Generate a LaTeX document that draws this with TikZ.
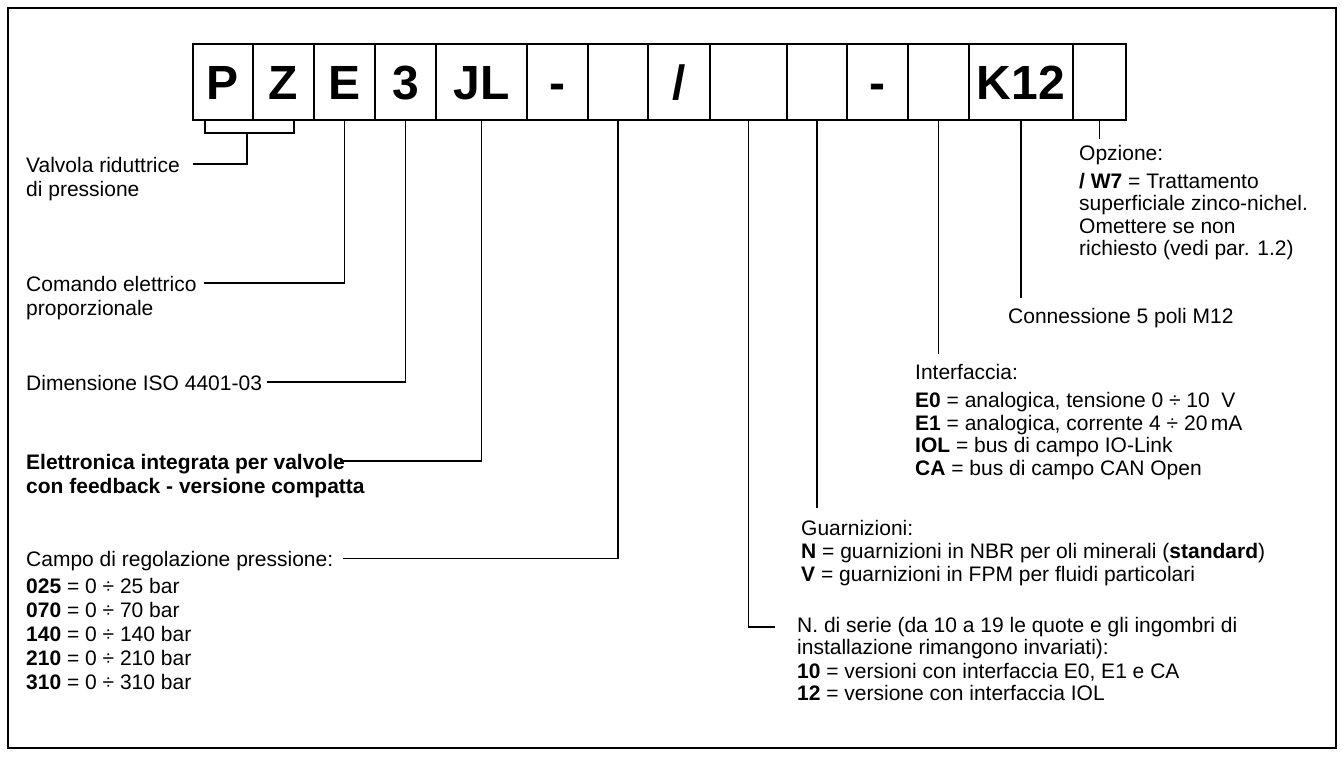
\documentclass[tikz,border=0pt]{standalone}
\usepackage{fontspec}
\setmainfont{Liberation Sans}
\begin{document}
\begin{tikzpicture}[x=1pt,y=-1pt,
  cell/.style={draw,line width=1.1pt,inner sep=0pt,minimum height=76pt,
    font=\fontsize{48}{48}\selectfont\bfseries,text height=34.4pt,text depth=0pt},
  lbl/.style={anchor=base west,inner sep=0pt,font=\fontsize{21}{24}\selectfont},
  lblr/.style={anchor=base west,inner sep=0pt,font=\fontsize{21}{22.5}\selectfont},
  conn/.style={line width=1.1pt}]
\useasboundingbox (0,0) rectangle (1344,756);
\draw[line width=1.5pt] (8,8) rectangle (1336,748);
% code boxes
\node[cell,minimum width=60pt]  (bP)  at (223,82)   {P};
\node[cell,minimum width=61pt]  (bZ)  at (283.5,82) {Z};
\node[cell,minimum width=61pt]  (bE)  at (344.5,82) {E};
\node[cell,minimum width=61pt]  (b3)  at (405.5,82) {3};
\node[cell,minimum width=91pt]  (bJL) at (481.5,82) {JL};
\node[cell,minimum width=61pt]  (bd1) at (557.5,82) {-};
\node[cell,minimum width=60pt]  (bc)  at (618,82)   {};
\node[cell,minimum width=62pt]  (bsl) at (679,82)   {/};
\node[cell,minimum width=77pt]  (bs)  at (748.5,82) {};
\node[cell,minimum width=60pt]  (bg)  at (817,82)   {};
\node[cell,minimum width=61pt]  (bd2) at (877.5,82) {-};
\node[cell,minimum width=61pt]  (bi)  at (938.5,82) {};
\node[cell,minimum width=104pt] (bK)  at (1021,82)  {K12};
\node[cell,minimum width=53pt]  (bo)  at (1099.5,82) {};
% left labels
\node[lbl] (tVal) at (26,172) {\begin{tabular}[t]{@{}l@{}}Valvola riduttrice\\di pressione\end{tabular}};
\node[lbl] (tCom) at (26,291) {\begin{tabular}[t]{@{}l@{}}Comando elettrico\\proporzionale\end{tabular}};
\node[lbl] (tDim) at (26,390) {Dimensione ISO 4401-03};
\node[lbl] (tEl) at (26,469) {\begin{tabular}[t]{@{}l@{}}\textbf{Elettronica integrata per valvole}\\\textbf{con feedback - versione compatta}\end{tabular}};
\node[lbl] (tCam) at (26,566.5) {\begin{tabular}[t]{@{}l@{}}Campo di regolazione pressione:\\[3pt]
\textbf{025} = 0 ÷ 25 bar\\\textbf{070} = 0 ÷ 70 bar\\\textbf{140} = 0 ÷ 140 bar\\\textbf{210} = 0 ÷ 210 bar\\\textbf{310} = 0 ÷ 310 bar\end{tabular}};
% right labels
\node[lblr] (tOpz) at (1079,160.5) {\begin{tabular}[t]{@{}l@{}}Opzione:\\[5pt]\textbf{/ W7} = Trattamento\\superficiale zinco-nichel.\\Omettere se non\\richiesto (vedi par. 1.2)\end{tabular}};
\node[lblr] (tCon) at (1008,323) {Connessione 5 poli M12};
\node[lblr] (tInt) at (915,379) {\begin{tabular}[t]{@{}l@{}}Interfaccia:\\[6pt]\textbf{E0} = analogica, tensione 0 ÷ 10\ \ V\\\textbf{E1} = analogica, corrente 4 ÷ 20\,mA\\\textbf{IOL} = bus di campo IO-Link\\\textbf{CA} = bus di campo CAN Open\end{tabular}};
\node[lblr] (tGua) at (801,535) {\begin{tabular}[t]{@{}l@{}}Guarnizioni:\\[1pt]\textbf{N} = guarnizioni in NBR per oli minerali (\textbf{standard})\\\textbf{V} = guarnizioni in FPM per fluidi particolari\end{tabular}};
\node[lblr] (tSer) at (797,632) {\begin{tabular}[t]{@{}l@{}}N. di serie (da 10 a 19 le quote e gli ingombri di\\installazione rimangono invariati):\\[1pt]\textbf{10} = versioni con interfaccia E0, E1 e CA\\\textbf{12} = versione con interfaccia IOL\end{tabular}};
% connector ends
\coordinate (kPZ) at (247,133);
\coordinate (eVal) at (193,164);
\coordinate (eCom) at (204,283);
\coordinate (eDim) at (267,382);
\coordinate (eEl) at (340,461);
\coordinate (eCam) at (343,558.5);
\coordinate (eOpz) at (1099.5,139);
\coordinate (eCon) at (1021,298);
\coordinate (eInt) at (938.5,354);
\coordinate (eGua) at (817,508);
\coordinate (eSer) at (775,627);
% connectors
\draw[conn] ([xshift=-18pt]bP.south) -- ([xshift=-18pt]bP.south |- kPZ) -- ([xshift=10.5pt]bZ.south |- kPZ) -- ([xshift=10.5pt]bZ.south);
\draw[conn] (kPZ) |- (eVal);
\draw[conn] (bE.south) |- (eCom);
\draw[conn] (b3.south) |- (eDim);
\draw[conn] (bJL.south) |- (eEl);
\draw[conn] (bc.south) |- (eCam);
\draw[conn] (bo.south) -- (eOpz);
\draw[conn] (bK.south) -- (eCon);
\draw[conn] (bi.south) -- (eInt);
\draw[conn] (bg.south) -- (eGua);
\draw[conn] (bs.south) |- (eSer);
\end{tikzpicture}
\end{document}
